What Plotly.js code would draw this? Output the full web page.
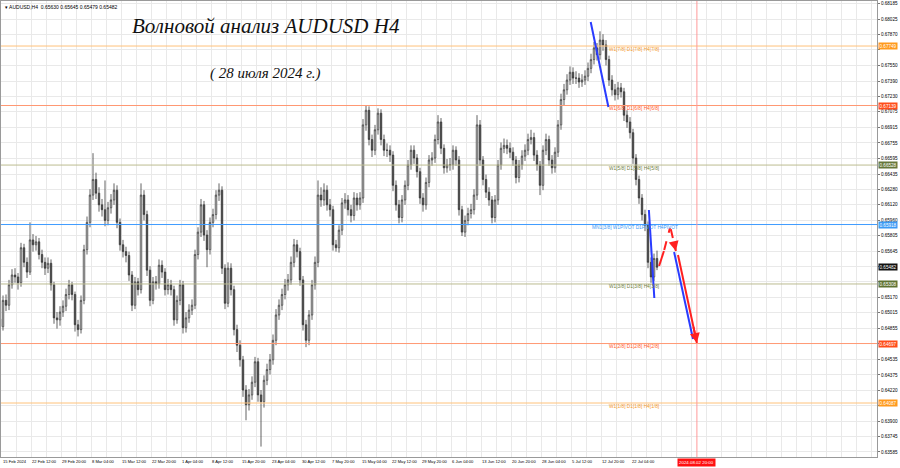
<!DOCTYPE html>
<html><head><meta charset="utf-8">
<script src="https://cdn.plot.ly/plotly-3.0.1.min.js"></script>
<style>html,body{margin:0;padding:0;background:#fff}#chart{width:900px;height:468px}</style>
</head><body><div id="chart"></div>
<script>
// AUDUSD 12h-step candles (15 Feb 2024 .. 26 Jul 2024)
const opens = [0.6495,
0.6487,0.6514,0.6509,0.6530,0.6540,0.6538,0.6532,0.6568,0.6553,0.6543,
0.6576,0.6571,0.6574,0.6561,0.6553,0.6547,0.6552,0.6530,0.6496,0.6494,
0.6502,0.6508,0.6520,0.6530,0.6520,0.6489,0.6484,0.6514,0.6566,0.6594,
0.6622,0.6638,0.6624,0.6612,0.6607,0.6596,0.6609,0.6617,0.6627,0.6594,
0.6571,0.6564,0.6560,0.6540,0.6509,0.6533,0.6525,0.6622,0.6602,0.6545,
0.6514,0.6533,0.6531,0.6550,0.6543,0.6525,0.6530,0.6525,0.6494,0.6514,
0.6530,0.6486,0.6496,0.6504,0.6509,0.6561,0.6584,0.6612,0.6581,0.6566,
0.6594,0.6602,0.6622,0.6627,0.6547,0.6511,0.6547,0.6525,0.6484,0.6468,
0.6453,0.6422,0.6407,0.6417,0.6430,0.6451,0.6417,0.6410,0.6432,0.6443,
0.6453,0.6473,0.6499,0.6509,0.6520,0.6530,0.6535,0.6553,0.6571,0.6564,
0.6535,0.6489,0.6473,0.6499,0.6530,0.6553,0.6622,0.6617,0.6627,0.6612,
0.6607,0.6571,0.6568,0.6586,0.6614,0.6617,0.6607,0.6601,0.6619,0.6612,
0.6619,0.6694,0.6709,0.6679,0.6668,0.6689,0.6706,0.6679,0.6668,0.6668,
0.6663,0.6632,0.6612,0.6599,0.6617,0.6632,0.6653,0.6668,0.6660,0.6646,
0.6619,0.6612,0.6635,0.6658,0.6660,0.6679,0.6697,0.6670,0.6650,0.6653,
0.6653,0.6668,0.6658,0.6607,0.6584,0.6596,0.6603,0.6607,0.6622,0.6694,
0.6658,0.6638,0.6625,0.6617,0.6599,0.6617,0.6653,0.6670,0.6673,0.6670,
0.6666,0.6658,0.6640,0.6653,0.6662,0.6668,0.6679,0.6681,0.6663,0.6653,
0.6632,0.6668,0.6679,0.6658,0.6650,0.6666,0.6694,0.6720,0.6730,0.6740,
0.6748,0.6742,0.6742,0.6738,0.6740,0.6744,0.6752,0.6761,0.6773,0.6766,
0.6781,0.6776,0.6761,0.6740,0.6730,0.6725,0.6732,0.6728,0.6704,0.6697,
0.6686,0.6660,0.6638,0.6619,0.6602,0.6591,0.6553,0.6538,0.6557];
const highs = [
0.6502,0.6519,0.6520,0.6535,0.6546,0.6547,0.6542,0.6573,0.6572,0.6558,
0.6594,0.6582,0.6580,0.6578,0.6566,0.6558,0.6558,0.6556,0.6533,0.6502,
0.6508,0.6514,0.6526,0.6535,0.6533,0.6523,0.6494,0.6519,0.6571,0.6600,
0.6628,0.6665,0.6645,0.6630,0.6618,0.6637,0.6615,0.6623,0.6634,0.6632,
0.6598,0.6576,0.6569,0.6564,0.6544,0.6538,0.6537,0.6634,0.6627,0.6606,
0.6549,0.6538,0.6539,0.6556,0.6555,0.6547,0.6536,0.6535,0.6529,0.6519,
0.6535,0.6534,0.6502,0.6510,0.6515,0.6566,0.6589,0.6618,0.6616,0.6586,
0.6599,0.6608,0.6627,0.6634,0.6631,0.6551,0.6553,0.6552,0.6529,0.6489,
0.6473,0.6457,0.6427,0.6423,0.6436,0.6456,0.6455,0.6422,0.6437,0.6449,
0.6459,0.6479,0.6505,0.6515,0.6526,0.6536,0.6541,0.6559,0.6577,0.6576,
0.6568,0.6539,0.6494,0.6504,0.6535,0.6559,0.6637,0.6630,0.6634,0.6632,
0.6618,0.6611,0.6576,0.6591,0.6619,0.6624,0.6622,0.6612,0.6625,0.6624,
0.6625,0.6700,0.6714,0.6713,0.6684,0.6694,0.6711,0.6710,0.6684,0.6675,
0.6673,0.6667,0.6637,0.6617,0.6622,0.6637,0.6658,0.6673,0.6673,0.6664,
0.6650,0.6624,0.6640,0.6663,0.6666,0.6684,0.6704,0.6701,0.6674,0.6659,
0.6660,0.6673,0.6672,0.6662,0.6611,0.6601,0.6609,0.6613,0.6628,0.6704,
0.6699,0.6662,0.6643,0.6630,0.6621,0.6622,0.6658,0.6676,0.6680,0.6679,
0.6676,0.6671,0.6662,0.6658,0.6668,0.6674,0.6685,0.6689,0.6686,0.6668,
0.6657,0.6673,0.6685,0.6683,0.6663,0.6671,0.6699,0.6726,0.6736,0.6746,
0.6754,0.6753,0.6749,0.6747,0.6746,0.6750,0.6758,0.6767,0.6779,0.6778,
0.6790,0.6787,0.6781,0.6765,0.6745,0.6736,0.6738,0.6737,0.6732,0.6709,
0.6702,0.6690,0.6664,0.6642,0.6623,0.6607,0.6595,0.6558,0.6562,0.6565];
const lows = [
0.6480,0.6483,0.6503,0.6504,0.6526,0.6532,0.6525,0.6528,0.6548,0.6537,
0.6540,0.6564,0.6565,0.6556,0.6547,0.6540,0.6542,0.6524,0.6490,0.6485,
0.6488,0.6497,0.6503,0.6515,0.6514,0.6482,0.6477,0.6480,0.6510,0.6561,
0.6589,0.6617,0.6618,0.6605,0.6600,0.6590,0.6591,0.6603,0.6612,0.6588,
0.6565,0.6558,0.6553,0.6534,0.6503,0.6505,0.6519,0.6521,0.6596,0.6539,
0.6508,0.6510,0.6525,0.6526,0.6537,0.6519,0.6520,0.6519,0.6488,0.6490,
0.6509,0.6480,0.6481,0.6491,0.6499,0.6505,0.6556,0.6579,0.6575,0.6548,
0.6561,0.6589,0.6597,0.6616,0.6541,0.6505,0.6507,0.6519,0.6478,0.6461,
0.6446,0.6415,0.6391,0.6401,0.6412,0.6425,0.6410,0.6364,0.6404,0.6427,
0.6438,0.6448,0.6468,0.6494,0.6504,0.6515,0.6524,0.6530,0.6548,0.6558,
0.6529,0.6483,0.6466,0.6468,0.6494,0.6525,0.6548,0.6610,0.6611,0.6606,
0.6600,0.6565,0.6564,0.6563,0.6581,0.6608,0.6601,0.6594,0.6596,0.6606,
0.6607,0.6614,0.6688,0.6673,0.6661,0.6663,0.6684,0.6673,0.6662,0.6661,
0.6656,0.6626,0.6606,0.6593,0.6594,0.6612,0.6627,0.6648,0.6654,0.6640,
0.6613,0.6605,0.6607,0.6630,0.6652,0.6655,0.6674,0.6664,0.6644,0.6645,
0.6647,0.6648,0.6652,0.6601,0.6580,0.6579,0.6591,0.6598,0.6602,0.6617,
0.6652,0.6632,0.6619,0.6611,0.6593,0.6594,0.6612,0.6648,0.6665,0.6664,
0.6660,0.6652,0.6634,0.6635,0.6648,0.6657,0.6663,0.6674,0.6657,0.6647,
0.6622,0.6627,0.6663,0.6652,0.6644,0.6645,0.6661,0.6689,0.6714,0.6725,
0.6735,0.6736,0.6736,0.6732,0.6733,0.6735,0.6739,0.6747,0.6756,0.6760,
0.6761,0.6770,0.6755,0.6734,0.6724,0.6719,0.6720,0.6722,0.6698,0.6691,
0.6680,0.6654,0.6632,0.6613,0.6596,0.6585,0.6547,0.6532,0.6534,0.6545];
const closes = [
0.6487,0.6514,0.6509,0.6530,0.6540,0.6538,0.6532,0.6568,0.6553,0.6543,
0.6576,0.6571,0.6574,0.6561,0.6553,0.6547,0.6552,0.6530,0.6496,0.6494,
0.6502,0.6508,0.6520,0.6530,0.6520,0.6489,0.6484,0.6514,0.6566,0.6594,
0.6622,0.6638,0.6624,0.6612,0.6607,0.6596,0.6609,0.6617,0.6627,0.6594,
0.6571,0.6564,0.6560,0.6540,0.6509,0.6533,0.6525,0.6622,0.6602,0.6545,
0.6514,0.6533,0.6531,0.6550,0.6543,0.6525,0.6530,0.6525,0.6494,0.6514,
0.6530,0.6486,0.6496,0.6504,0.6509,0.6561,0.6584,0.6612,0.6581,0.6566,
0.6594,0.6602,0.6622,0.6627,0.6547,0.6511,0.6547,0.6525,0.6484,0.6468,
0.6453,0.6422,0.6407,0.6417,0.6430,0.6451,0.6417,0.6410,0.6432,0.6443,
0.6453,0.6473,0.6499,0.6509,0.6520,0.6530,0.6535,0.6553,0.6571,0.6564,
0.6535,0.6489,0.6473,0.6499,0.6530,0.6553,0.6622,0.6617,0.6627,0.6612,
0.6607,0.6571,0.6568,0.6586,0.6614,0.6617,0.6607,0.6601,0.6619,0.6612,
0.6619,0.6694,0.6709,0.6679,0.6668,0.6689,0.6706,0.6679,0.6668,0.6668,
0.6663,0.6632,0.6612,0.6599,0.6617,0.6632,0.6653,0.6668,0.6660,0.6646,
0.6619,0.6612,0.6635,0.6658,0.6660,0.6679,0.6697,0.6670,0.6650,0.6653,
0.6653,0.6668,0.6658,0.6607,0.6584,0.6596,0.6603,0.6607,0.6622,0.6694,
0.6658,0.6638,0.6625,0.6617,0.6599,0.6617,0.6653,0.6670,0.6673,0.6670,
0.6666,0.6658,0.6640,0.6653,0.6662,0.6668,0.6679,0.6681,0.6663,0.6653,
0.6632,0.6668,0.6679,0.6658,0.6650,0.6666,0.6694,0.6720,0.6730,0.6740,
0.6748,0.6742,0.6742,0.6738,0.6740,0.6744,0.6752,0.6761,0.6773,0.6766,
0.6781,0.6776,0.6761,0.6740,0.6730,0.6725,0.6732,0.6728,0.6704,0.6697,
0.6686,0.6660,0.6638,0.6619,0.6602,0.6591,0.6553,0.6538,0.6557,0.6548];

const dateLabels = ["15 Feb 2024","22 Feb 12:00","29 Feb 20:00","8 Mar 04:00","15 Mar 12:00","22 Mar 20:00",
"1 Apr 04:00","8 Apr 12:00","15 Apr 20:00","23 Apr 04:00","30 Apr 12:00","7 May 20:00","15 May 04:00",
"22 May 12:00","29 May 20:00","6 Jun 04:00","13 Jun 12:00","20 Jun 20:00","28 Jun 04:00","5 Jul 12:00",
"12 Jul 20:00","22 Jul 04:00"];
const priceTicks = [0.68185,0.68025,0.67870,0.67710,0.67550,0.67390,0.67230,0.67075,0.66915,0.66755,
0.66595,0.66435,0.66280,0.66120,0.65960,0.65805,0.65645,0.65490,0.65330,0.65170,0.65015,0.64855,
0.64695,0.64535,0.64375,0.64220,0.64060,0.63900,0.63745,0.63585];
const levelPrices = [0.67749,0.67139,0.66528,0.65918,0.65308,0.64697,0.64087];
const levelNames = ["W1[7/8] D1[7/8] H4[7/8]","W1[6/8] D1[6/8] H4[6/8]","W1[5/8] D1[5/8] H4[5/8]",
"MN1[3/8] W1PIVOT D1PIVOT H4PIVOT","W1[3/8] D1[3/8] H4[3/8]","W1[2/8] D1[2/8] H4[2/8]","W1[1/8] D1[1/8] H4[1/8]"];
const headerText = "AUDUSD,H4  0.65630 0.65645 0.65479 0.65482";
const lastPrice = 0.65482;
const forecastDate = "2024.08.02 20:00";
const forecastBar = 232.3;
// wave marks: [barStart, priceStart, barEnd, priceEnd]
const waveBlue = [[196.9,0.67995,202.8,0.67123],[216.3,0.66067,218.1,0.65164],[224.7,0.65636,231.0,0.64743]];
const waveRedSolid = [[219.7,0.65492,221.3,0.65646],[226.0,0.65605,232.3,0.64702]];
const waveRedDashed = [[221.4,0.65656,223.3,0.65882],[223.6,0.65870,225.3,0.65646]];

// ---------- styles ----------
const levelLine = ['#ffc27a','#ff9873','#bcbc90','#3f9cff','#bcbc90','#ff9873','#ffc27a'];
const levelBox  = ['#ff9a1e','#ff4d1a','#66773a','#3b9af5','#5f7232','#ff4d1a','#ff9a1e'];
const levelText = ['#f59a2a','#ff5a28','#6f7d3c','#3b9af5','#6f7d3c','#ff5a28','#f59a2a'];

const bars = closes.map((_, i) => i);
const PX = 3; // pixels per bar
const xr = [1/PX, 877/PX];
const F = 'Liberation Sans';
const AX = 4.6; // axis label font size

const shapes = [];
const annotations = [];
const boxed = levelPrices.concat([lastPrice]);

levelPrices.forEach((p, i) => {
  shapes.push({type:'line', xref:'paper', x0:0, x1:1, yref:'y', y0:p, y1:p, line:{color:levelLine[i], width:1}});
  annotations.push({xref:'x', x:(i===3?196.7:202.3), y:p, yref:'y', xanchor:'left', yanchor:'middle', yshift:-3,
    text:levelNames[i], showarrow:false, font:{size:4.8, color:levelText[i], family:F}});
  annotations.push({xref:'paper', x:1, xanchor:'left', xshift:1, y:p, yref:'y', yanchor:'middle',
    text:p.toFixed(5), showarrow:false, bgcolor:levelBox[i], borderpad:0.5, font:{size:AX, color:'#fff', family:F}});
});
annotations.push({xref:'paper', x:1, xanchor:'left', xshift:1, y:lastPrice, yref:'y', yanchor:'middle',
  text:lastPrice.toFixed(5), showarrow:false, bgcolor:'#111', borderpad:0.5, font:{size:AX, color:'#fff', family:F}});

// forecast vertical line + date label
shapes.push({type:'line', xref:'x', x0:forecastBar, x1:forecastBar, yref:'paper', y0:0, y1:1, line:{color:'#ff9a9a', width:1}});
annotations.push({xref:'x', x:forecastBar, yref:'paper', y:0, yanchor:'top', yshift:-1, text:forecastDate,
  showarrow:false, bgcolor:'#ff1010', borderpad:1, font:{size:4.4, color:'#fff', family:F}});

function seg(s, color, dash, arrow){
  shapes.push({type:'line', xref:'x', yref:'y', x0:s[0], y0:s[1], x1:s[2], y1:s[3], line:{color:color, width:2, dash:dash}});
  if (arrow){
    const f = 0.8;
    annotations.push({xref:'x', yref:'y', x:s[2], y:s[3], axref:'x', ayref:'y',
      ax:s[0]+(s[2]-s[0])*f, ay:s[1]+(s[3]-s[1])*f, showarrow:true, arrowhead:2, arrowsize:1, arrowwidth:2,
      arrowcolor:color, text:''});
  }
}
waveBlue.forEach(s => seg(s, '#2a3cff', 'solid', false));
waveRedSolid.forEach(s => seg(s, '#ff2020', 'solid', true));
waveRedDashed.forEach((s, i) => seg(s, '#ff2020', 'dash', i===1));

// header & titles
annotations.push({xref:'paper', yref:'paper', x:0.002, y:1, xanchor:'left', yanchor:'top', yshift:-1,
  text:'▾ ' + headerText, showarrow:false, font:{size:5, color:'#000', family:F}});
annotations.push({xref:'paper', yref:'paper', x:0.3025, y:0.945, xanchor:'center', yanchor:'middle',
  text:'<i>Волновой анализ AUDUSD H4</i>', showarrow:false, font:{size:21, color:'#111', family:'Liberation Serif'}});
annotations.push({xref:'paper', yref:'paper', x:0.3025, y:0.842, xanchor:'center', yanchor:'middle',
  text:'<i>( 28 июля 2024 г.)</i>', showarrow:false, font:{size:15, color:'#111', family:'Liberation Serif'}});

// x grid every 5 bars; date labels every 10 bars, drawn left-aligned at their grid line
const tickvals = [];
for (let k = 0; 0.567 + 5*k < xr[1]; k++) tickvals.push(0.567 + 5*k);
dateLabels.forEach((t, i) => {
  annotations.push({xref:'x', x:0.567 + 10*i, xanchor:'left', xshift:(i===0?0:-1), yref:'paper', y:0, yanchor:'top', yshift:-1,
    text:t, showarrow:false, borderpad:0, font:{size:4.1, color:'#000', family:F}});
});

const trace = {
  type:'candlestick', x:bars, open:opens, high:highs, low:lows, close:closes,
  increasing:{line:{color:'#3a3a3a', width:0.8}, fillcolor:'#ffffff'},
  decreasing:{line:{color:'#3a3a3a', width:0.8}, fillcolor:'#3a3a3a'},
  whiskerwidth:0, hoverinfo:'skip', showlegend:false
};

const layout = {
  width:900, height:468,
  margin:{l:1, r:23, t:1, b:11},
  paper_bgcolor:'#fff', plot_bgcolor:'#fff',
  font:{family:F, size:AX, color:'#000'},
  showlegend:false,
  xaxis:{range:xr, rangeslider:{visible:false}, tickmode:'array', tickvals:tickvals, showticklabels:false,
    ticks:'', showgrid:true, gridcolor:'#e9e9e9', gridwidth:1,
    showline:true, linecolor:'#9a9a9a', linewidth:1, mirror:true, zeroline:false, fixedrange:true},
  yaxis:{range:[0.63533, 0.68211], side:'right', tickmode:'array', tickvals:priceTicks,
    ticktext:priceTicks.map(v => boxed.some(b => Math.abs(b - v) < 0.0004) ? '' : v.toFixed(5)),
    ticks:'outside', ticklen:2, tickcolor:'#777',
    showgrid:true, gridcolor:'#e9e9e9', gridwidth:1, showline:true, linecolor:'#9a9a9a', linewidth:1,
    mirror:true, zeroline:false, tickfont:{size:AX}, fixedrange:true},
  shapes:shapes, annotations:annotations
};

Plotly.newPlot('chart', [trace], layout, {displayModeBar:false, staticPlot:true});
</script>
</body></html>
